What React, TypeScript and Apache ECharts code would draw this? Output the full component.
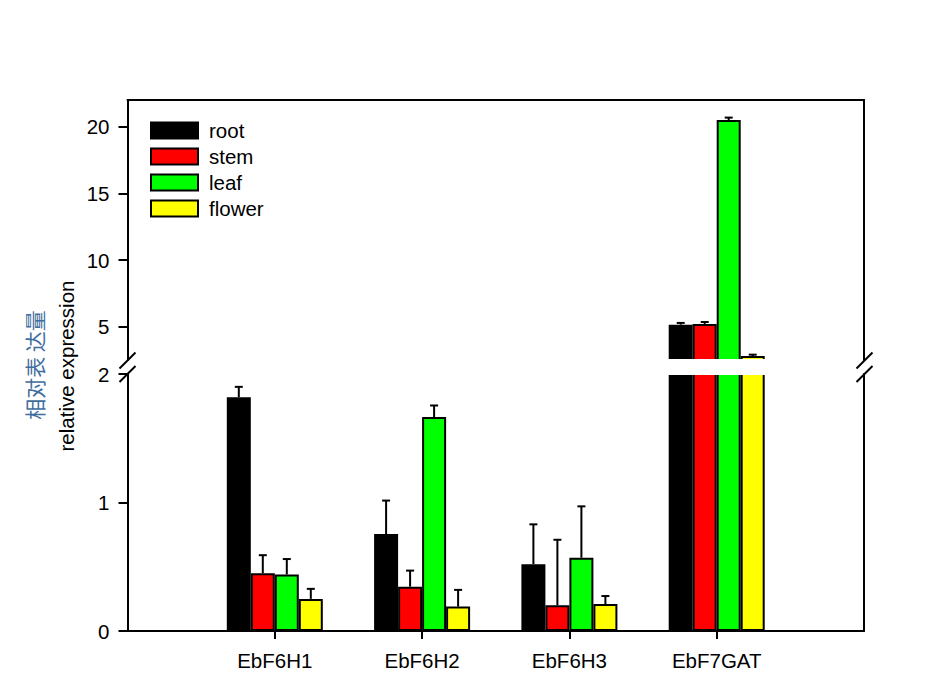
import React, { useEffect, useRef } from "react";
import * as echarts from "echarts";

const categories = ["EbF6H1", "EbF6H2", "EbF6H3", "EbF7GAT"];
const tissues = ["root", "stem", "leaf", "flower"];
const rootVals = [1.82, 0.755, 0.52, 5.15];
const rootErr = [0.08, 0.26, 0.31, 0.13];
const stemVals = [0.45, 0.345, 0.2, 5.2];
const stemErr = [0.14, 0.125, 0.51, 0.15];
const leafVals = [0.44, 1.665, 0.57, 20.5];
const leafErr = [0.12, 0.09, 0.4, 0.18];
const flowerVals = [0.25, 0.19, 0.21, 2.8];
const flowerErr = [0.078, 0.13, 0.062, 0.1];
const colors = ["#000000", "#ff0000", "#00ff00", "#ffff00"];
const lowerTicks = { min: 0, max: 2, interval: 1 };
const upperRange = { min: 2.5, max: 22 };
const upperTickValues = [5, 10, 15, 20];
const yTitleEn = "relative expression";
const yTitleZh = "相对表 达量";

const FONT = "'Liberation Sans', Arial, sans-serif";
const FS = 20.5;
const BAR_W = 24;

export default function App() {
  const ref = useRef<HTMLDivElement>(null);
  useEffect(() => {
    if (!ref.current) return;
    const chart = echarts.init(ref.current, undefined, { renderer: "svg" });
    const vals = [rootVals, stemVals, leafVals, flowerVals];
    const errs = [rootErr, stemErr, leafErr, flowerErr];
    const axisCats = ["", ...categories, ""];
    const offsets = [-1.5, -0.5, 0.5, 1.5].map((k) => k * BAR_W);

    const series: any[] = [];
    tissues.forEach((name, s) => {
      const lower = ["-", ...vals[s], "-"];
      const upper = ["-", ...vals[s].map((v) => (v > upperRange.min ? v : "-")), "-"];
      const common = {
        type: "bar",
        name,
        barWidth: BAR_W,
        barGap: "0%",
        clip: true,
        itemStyle: { color: colors[s], borderColor: "#000", borderWidth: 2 },
      };
      series.push({ ...common, xAxisIndex: 1, yAxisIndex: 1, data: lower });
      series.push({ ...common, xAxisIndex: 0, yAxisIndex: 0, data: upper });
    });

    const errRender = (off: number) => (params: any, api: any) => {
      const x = api.value(0);
      const v = api.value(1);
      const e = api.value(2);
      const b = api.coord([x, v]);
      const t = api.coord([x, v + e]);
      const cx = b[0] + off;
      const st = { stroke: "#000", lineWidth: 2 };
      return {
        type: "group",
        children: [
          { type: "line", shape: { x1: cx, y1: b[1], x2: cx, y2: t[1] }, style: st },
          { type: "line", shape: { x1: cx - 4, y1: t[1], x2: cx + 4, y2: t[1] }, style: st },
        ],
      };
    };

    tissues.forEach((name, s) => {
      const lowData: any[] = [];
      const upData: any[] = [];
      vals[s].forEach((v, i) => {
        if (v + errs[s][i] <= lowerTicks.max) lowData.push([i + 1, v, errs[s][i]]);
        else if (v > upperRange.min) upData.push([i + 1, v, errs[s][i]]);
      });
      series.push({
        type: "custom",
        name: name + " error",
        xAxisIndex: 1,
        yAxisIndex: 1,
        z: 5,
        renderItem: errRender(offsets[s]),
        data: lowData,
      });
      series.push({
        type: "custom",
        name: name + " error up",
        xAxisIndex: 0,
        yAxisIndex: 0,
        z: 5,
        renderItem: errRender(offsets[s]),
        data: upData,
      });
    });

    const line = { show: true, onZero: false, lineStyle: { color: "#000", width: 2 } };
    const labelStyle = { color: "#000", fontSize: FS, fontFamily: FONT };

    chart.setOption({
      animation: false,
      textStyle: { fontFamily: FONT },
      grid: [
        { left: 127.5, right: 72, top: 100, height: 260 },
        { left: 127.5, right: 72, top: 374, height: 257 },
      ],
      xAxis: [
        {
          type: "category",
          gridIndex: 0,
          position: "top",
          data: axisCats,
          boundaryGap: false,
          axisLine: line,
          axisTick: { show: false },
          axisLabel: { show: false },
          splitLine: { show: false },
        },
        {
          type: "category",
          gridIndex: 1,
          position: "bottom",
          data: axisCats,
          boundaryGap: false,
          axisLine: line,
          axisTick: {
            show: true,
            length: 8,
            interval: (i: number) => i > 0 && i < axisCats.length - 1,
            lineStyle: { color: "#000", width: 2 },
          },
          axisLabel: { ...labelStyle, interval: 0, margin: 19 },
          splitLine: { show: false },
        },
      ],
      yAxis: [
        {
          type: "value",
          gridIndex: 0,
          position: "left",
          min: upperRange.min,
          max: upperRange.max,
          axisLine: line,
          axisTick: {
            show: true,
            length: 9,
            customValues: upperTickValues,
            lineStyle: { color: "#000", width: 2 },
          },
          axisLabel: { ...labelStyle, margin: 18, customValues: upperTickValues },
          splitLine: { show: false },
        },
        {
          type: "value",
          gridIndex: 1,
          position: "left",
          min: lowerTicks.min,
          max: lowerTicks.max,
          interval: lowerTicks.interval,
          axisLine: line,
          axisTick: { show: true, length: 9, lineStyle: { color: "#000", width: 2 } },
          axisLabel: { ...labelStyle, margin: 18 },
          splitLine: { show: false },
        },
        {
          type: "value",
          gridIndex: 0,
          position: "right",
          min: 0,
          max: 1,
          axisLine: line,
          axisTick: { show: false },
          axisLabel: { show: false },
          splitLine: { show: false },
        },
        {
          type: "value",
          gridIndex: 1,
          position: "right",
          min: 0,
          max: 1,
          axisLine: line,
          axisTick: { show: false },
          axisLabel: { show: false },
          splitLine: { show: false },
        },
      ],
      legend: {
        data: tissues,
        orient: "vertical",
        left: 150,
        top: 120,
        padding: 0,
        itemWidth: 47,
        itemHeight: 16,
        itemGap: 5,
        icon: "rect",
        textStyle: { ...labelStyle, padding: [0, 0, 0, 6] },
      },
      graphic: [
        {
          type: "rect",
          z: 100,
          shape: { x: 129, y: 359, width: 733.5, height: 16 },
          style: { fill: "#fff" },
          silent: true,
        },
        ...[
          [119.5, 368.5, 135.5, 352.5],
          [119.5, 382, 135.5, 366],
          [856.5, 368.5, 872.5, 352.5],
          [856.5, 382, 872.5, 366],
        ].map(([x1, y1, x2, y2]) => ({
          type: "line",
          z: 101,
          shape: { x1, y1, x2, y2 },
          style: { stroke: "#000", lineWidth: 2 },
          silent: true,
        })),
        {
          type: "text",
          x: 34,
          y: 365,
          rotation: Math.PI / 2,
          style: {
            text: yTitleZh,
            fill: "#3f6e9e",
            font: "21px 'Noto Sans CJK SC', sans-serif",
            textAlign: "center",
            textVerticalAlign: "middle",
            align: "center",
            verticalAlign: "middle",
          },
        },
        {
          type: "text",
          x: 66,
          y: 366,
          rotation: Math.PI / 2,
          style: {
            text: yTitleEn,
            fill: "#000",
            font: `${FS}px ${FONT}`,
            textAlign: "center",
            textVerticalAlign: "middle",
            align: "center",
            verticalAlign: "middle",
          },
        },
      ],
      series,
    });
    return () => chart.dispose();
  }, []);
  return (
    <div
      ref={ref}
      style={{ position: "absolute", left: 0, top: 0, width: 936, height: 697, background: "#fff" }}
    />
  );
}
